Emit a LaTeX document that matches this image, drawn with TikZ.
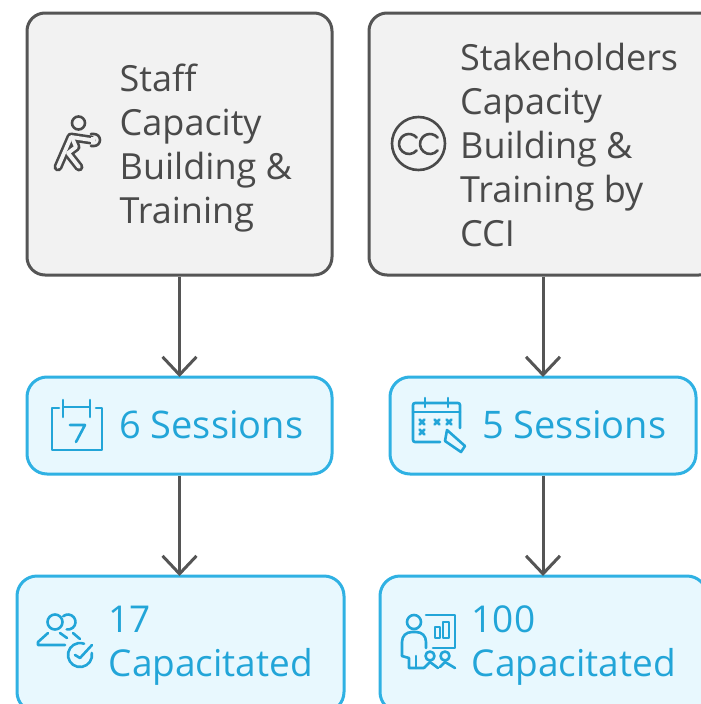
\documentclass[tikz,border=0pt]{standalone}
\usepackage{fontspec}
\setmainfont{Open Sans}
\usetikzlibrary{arrows.meta}
\definecolor{graybg}{HTML}{F2F2F2}
\definecolor{grayln}{HTML}{555555}
\definecolor{bluebg}{HTML}{E8F8FE}
\definecolor{blueln}{HTML}{2FB1E3}
\definecolor{bluetx}{HTML}{22A5D8}
\definecolor{graytx}{HTML}{4A4A4A}
\tikzset{
 graybox/.style={draw=grayln,fill=graybg,line width=3pt,rounded corners=18pt,inner sep=0pt},
 bluebox/.style={draw=blueln,fill=bluebg,line width=3pt,rounded corners=20pt,inner sep=0pt},
 arrowline/.style={draw=grayln,line width=3pt,shorten >=-1.5pt,-{Straight Barb[length=18pt,width=34pt,line width=3pt]}},
 graytext/.style={text=graytx,font=\fontsize{36}{44}\selectfont,align=left,anchor=west,inner sep=0pt},
 bluetext/.style={text=bluetx,font=\fontsize{37}{44}\selectfont,align=left,anchor=west,inner sep=0pt},
 sessiontext/.style={bluetext,font=\fontsize{38}{44}\selectfont},
 grayicon/.style={draw=graytx,line width=2.6pt,line cap=round,line join=round},
 blueicon/.style={draw=bluetx,line width=2.6pt,line cap=round,line join=round}
}
\begin{document}
\begin{tikzpicture}[x=1pt,y=-1pt]
\useasboundingbox (0,0) rectangle (701,704);
\clip (0,0) rectangle (701,704);
\fill[white] (0,0) rectangle (701,704);
\node[graybox,minimum width=305pt,minimum height=262pt] (staff) at (179.5,144) {};
\node[graybox,minimum width=348pt,minimum height=262pt] (stake) at (543,144) {};
\node[bluebox,minimum width=305pt,minimum height=97pt] (six) at (179.5,425.5) {};
\node[bluebox,minimum width=306pt,minimum height=97pt] (five) at (543,425.5) {};
\node[bluebox,minimum width=327pt,minimum height=136pt] (seventeen) at (180.5,644) {};
\node[bluebox,minimum width=327pt,minimum height=136pt] (hundred) at (543.5,644) {};
\draw[arrowline] (staff.south) -- (six.north);
\draw[arrowline] (stake.south) -- (five.north);
\draw[arrowline] (six.south) -- (six.south |- seventeen.north);
\draw[arrowline] (five.south) -- (five.south |- hundred.north);
\node[graytext] (t1) at (119.5,148.5) {Staff\\Capacity\\Building \&\\Training};
\node[graytext] (t2) at (460,144.5) {Stakeholders\\Capacity\\Building \&\\Training by\\CCI};
\node[sessiontext] (t3) at (119,425) {6 Sessions};
\node[sessiontext] (t4) at (482,425) {5 Sessions};
\node[bluetext] (t5) at (108.5,646) {17\\Capacitated};
\node[bluetext] (t6) at (471.5,646) {100\\Capacitated};
% runner icon
\begin{scope}[line cap=round,line join=round]
\draw[grayicon] (78.5,123) circle (6.5);
\foreach \wd/\col in {9/graytx,3.8/graybg}{
  \draw[color=\col,line width=\wd pt] (91,140) -- (71,137) -- (58,167);
  \draw[color=\col,line width=\wd pt] (73,140) -- (76,147) -- (68,153) -- (79,167);
}
\draw[graytx,line width=2.6pt] (91,134) -- (94,134) arc (-90:90:6) -- (91,146);
\fill[graybg] (91,136.5) rectangle (95,143.5);
\end{scope}
% cc icon
\begin{scope}[grayicon]
\draw (418.5,143.5) circle (26.5);
\draw ([shift={(409,144)}]40:10) arc (40:320:10);
\draw ([shift={(430,144)}]40:10) arc (40:320:10);
\end{scope}
% calendar 7
\begin{scope}[blueicon]
\draw (59,408) -- (52,408) -- (52,450) -- (102,450) -- (102,408) -- (96,408);
\draw (63,400) -- (63,417);
\draw (90,400) -- (90,417);
\draw (64,407) -- (89,407);
\draw (70,425) -- (85,425) -- (76,442);
\end{scope}
% calendar with pen
\begin{scope}[blueicon]
\draw[rounded corners=2pt] (440,442) -- (413,442) -- (413,403) -- (460,403) -- (460,428);
\draw (413,412) -- (460,412);
\draw (425,398) -- (425,407);
\draw (448,398) -- (448,407);
\foreach \p in {(422,422),(437,422),(449,422),(422,432)}
  \draw[shift={\p}] (-2.5,-2.5) -- (2.5,2.5) (-2.5,2.5) -- (2.5,-2.5);
\draw (447,430) -- (465,446) -- (461,452) -- (445,441) -- cycle;
\end{scope}
% people with check
\begin{scope}[blueicon]
\draw (55,622) circle (7.5);
\draw ([shift={(68,622)}]-130:7.5) arc (-130:100:7.5);
\draw (48,633) -- (38,642) -- (38,645) -- (65,645);
\draw (60,633) -- (67,638);
\draw (73,633) -- (80,639);
\draw ([shift={(80,655)}]-10:12) arc (-10:290:12);
\draw (75,655) -- (80,658) -- (92,645);
\end{scope}
% presenter icon
\begin{scope}[blueicon]
\draw (414,622) circle (7);
\draw (402,656) -- (402,642) .. controls (402,636) and (406,632) .. (412,632) -- (416,632) .. controls (422,632) and (426,636) .. (426,642) -- (426,648);
\draw (402,656) -- (409,658) -- (409,668) -- (424,668);
\draw (416,656) -- (416,668);
\draw (426,615) -- (455,615) -- (455,648) -- (433,648);
\draw (435,627) rectangle (440,638);
\draw (443,622) rectangle (449,638);
\draw (430,656) circle (4.5);
\draw (445,656) circle (4.5);
\draw (424,668) -- (430,662) -- (438,668);
\draw (440,667) -- (445,662) -- (455,668);
\end{scope}
\end{tikzpicture}
\end{document}
